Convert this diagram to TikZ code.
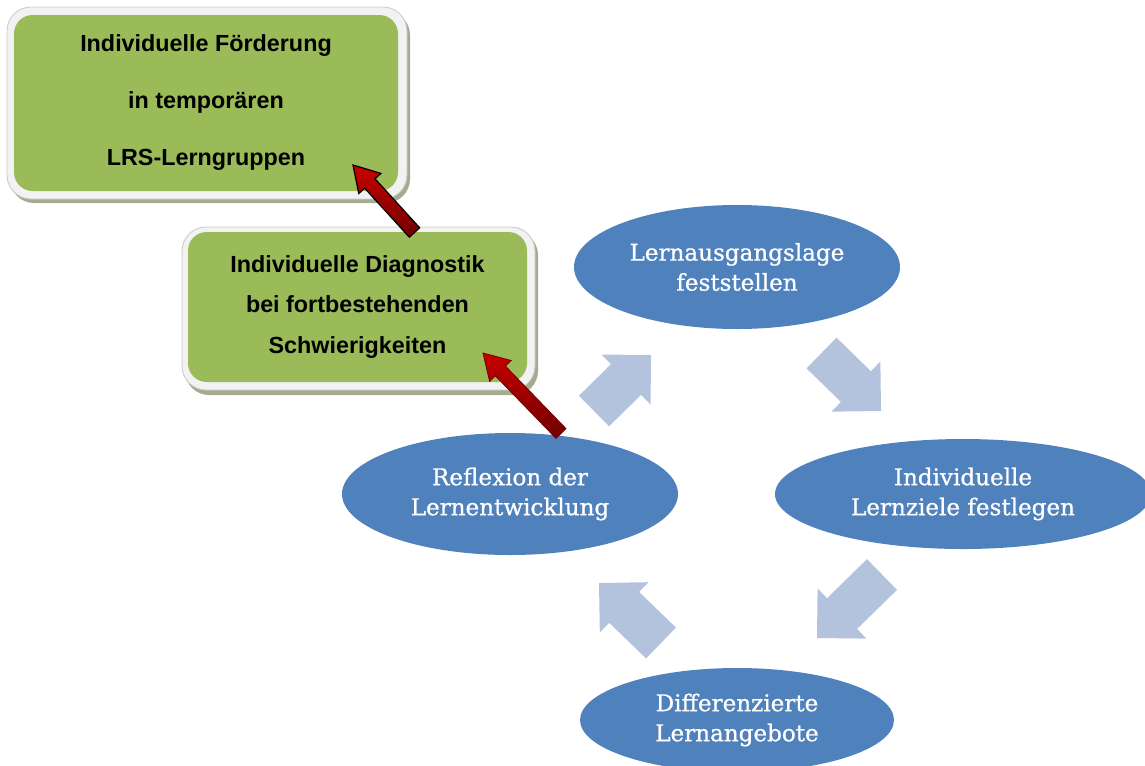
\documentclass[tikz,border=0pt]{standalone}
\usepackage{fontspec}
\setmainfont{Liberation Sans}
\newfontfamily\ellfont[FakeBold=0.8]{DejaVu Serif}
\usetikzlibrary{shapes.geometric,calc}
\definecolor{ellblue}{HTML}{4F81BD}
\definecolor{arrblue}{RGB}{179,194,221}
\definecolor{boxgreen}{HTML}{9BBB59}
\definecolor{framefill}{HTML}{F2F2F2}
\definecolor{frameline}{HTML}{C9C9C9}
\definecolor{shadowcol}{RGB}{163,172,142}
\definecolor{redlight}{HTML}{C80000}
\definecolor{reddark}{HTML}{700000}
\newcommand\drawblockarrow[6]{%
  \coordinate (ba-base) at ($(#2)!#6!(#1)$);
  \path[#3] ($(#1)!#4!90:(#2)$) -- ($(ba-base)!#4!90:(#2)$) -- ($(ba-base)!#5!90:(#2)$) -- (#2)
    -- ($(ba-base)!#5!-90:(#2)$) -- ($(ba-base)!#4!-90:(#2)$) -- ($(#1)!#4!-90:(#2)$) -- cycle;}
\tikzset{
  cycleell/.style={ellipse, fill=ellblue, text=white, inner sep=0pt, align=center,
    font=\ellfont\fontsize{17.3}{22.5}\selectfont},
  greenbox/.style={rectangle, rounded corners=14pt, fill=boxgreen, inner sep=0pt, align=center},
  boxframe/.style={fill=framefill, draw=frameline, line width=0.6pt, rounded corners=18pt},
  boxshadow/.style={fill=shadowcol, rounded corners=18pt},
  bluearr/.style={fill=arrblue},
  redarrA/.style={top color=redlight, bottom color=reddark, draw=black, line width=0.9pt, line join=miter},
  redarrB/.style={top color=redlight, bottom color=reddark, draw=reddark, line width=0.6pt, line join=miter},
}
\begin{document}
\begin{tikzpicture}[x=0.75pt,y=-0.75pt]
\useasboundingbox (0,0) rectangle (1145,765);
\clip (0,0) rectangle (1145,765);
% box 1
\path[boxshadow] (10,11) rectangle (410,203);
\path[boxframe] (7,7) rectangle (407,199);
\node[greenbox, minimum width=288pt, minimum height=132pt,
  font=\bfseries\fontsize{17.5}{42.75}\selectfont] (foerd) at (206,103)
  {Individuelle Förderung\\in temporären\\LRS-Lerngruppen};
% box 2
\path[boxshadow] (185,231) rectangle (538,395);
\path[boxframe] (182,227) rectangle (535,390);
\node[greenbox, minimum width=254.25pt, minimum height=112.5pt,
  font=\bfseries\fontsize{17.5}{30.4}\selectfont] (diag) at (357.5,307)
  {Individuelle Diagnostik\\bei fortbestehenden\\Schwierigkeiten};
% ellipses
\node[cycleell, minimum width=244.5pt, minimum height=93pt] (lage) at (737,267) {Lernausgangslage\\feststellen};
\node[cycleell, minimum width=282pt, minimum height=82.5pt] (ziele) at (963,494) {Individuelle\\Lernziele festlegen};
\node[cycleell, minimum width=235.5pt, minimum height=78pt] (angebote) at (737,720) {Differenzierte\\Lernangebote};
\node[cycleell, minimum width=252pt, minimum height=91.5pt] (reflex) at (510,494) {Reflexion der\\Lernentwicklung};
% blue cycle arrows
\coordinate (ne-t) at (594,411); \coordinate (ne-h) at (651,355);
\coordinate (se-t) at (821.5,353); \coordinate (se-h) at (881,411);
\coordinate (sw-t) at (882,574.5); \coordinate (sw-h) at (817,638);
\coordinate (nw-t) at (661,643); \coordinate (nw-h) at (599,583);
\drawblockarrow{ne-t}{ne-h}{bluearr}{16.1pt}{26.25pt}{26.25pt}
\drawblockarrow{se-t}{se-h}{bluearr}{16.1pt}{26.25pt}{26.25pt}
\drawblockarrow{sw-t}{sw-h}{bluearr}{16.1pt}{26.25pt}{26.25pt}
\drawblockarrow{nw-t}{nw-h}{bluearr}{16.1pt}{26.25pt}{26.25pt}
% red arrows
\coordinate (r1-t) at (414.5,232.5); \coordinate (r1-h) at (353,165);
\coordinate (r2-t) at (561,433.5); \coordinate (r2-h) at (483,353);
\drawblockarrow{r1-t}{r1-h}{redarrA}{5.25pt}{11.25pt}{18.75pt}
\drawblockarrow{r2-t}{r2-h}{redarrB}{5.25pt}{11.25pt}{18.75pt}
\end{tikzpicture}
\end{document}
